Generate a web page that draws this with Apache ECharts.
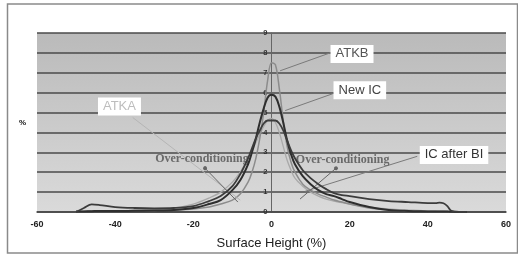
<!DOCTYPE html>
<html>
<head>
<meta charset="utf-8">
<script src="https://cdn.jsdelivr.net/npm/echarts@6/dist/echarts.min.js"></script>
<style>
  html, body { margin: 0; padding: 0; background: #fff; }
  #chart { width: 518px; height: 255px; }
</style>
</head>
<body>
<div id="chart"></div>
<script>
// surface height (%) sample positions and curve values
var xs = [-50, -48, -46, -44, -40, -35, -30, -25, -20, -16, -13, -10, -8, -6, -5, -4, -3, -2, -1, 0,
  1, 2, 3, 4, 5, 6, 8, 10, 12, 14, 16, 18, 20, 25, 30, 35, 40, 42, 43, 44, 45, 46, 48, 50]

var atka = [0.03, 0.04, 0.05, 0.05, 0.06, 0.08, 0.12, 0.2, 0.4, 0.7, 1.0, 1.5, 2.0, 2.7, 3.1, 3.5, 3.9, 4.3, 4.6, 4.7,
  4.5, 4.0, 3.3, 2.6, 2.1, 1.7, 1.3, 1.0, 0.8, 0.65, 0.55, 0.47, 0.4, 0.25, 0.15, 0.1, 0.06, 0.05, 0.04, 0.04, 0.03, 0.02, 0.01, 0]
var atkb = [0.02, 0.03, 0.04, 0.05, 0.06, 0.07, 0.08, 0.1, 0.15, 0.25, 0.4, 0.6, 0.9, 1.5, 2.0, 2.7, 3.7, 5.0, 6.6, 7.5,
  7.4, 6.2, 4.6, 3.3, 2.5, 2.0, 1.4, 1.1, 0.9, 0.75, 0.6, 0.5, 0.4, 0.2, 0.1, 0.05, 0.03, 0.02, 0.02, 0.02, 0.02, 0.01, 0, 0]
var newIC = [0.02, 0.03, 0.04, 0.05, 0.05, 0.06, 0.07, 0.1, 0.2, 0.4, 0.6, 1.1, 1.6, 2.4, 3.0, 3.7, 4.5, 5.2, 5.75, 5.9,
  5.8, 5.3, 4.5, 3.6, 2.9, 2.4, 1.8, 1.4, 1.1, 0.9, 0.8, 0.65, 0.5, 0.25, 0.1, 0.05, 0.03, 0.02, 0.02, 0.02, 0.02, 0.01, 0, 0]
var icAfterBI = [0, 0.2, 0.38, 0.35, 0.25, 0.2, 0.18, 0.2, 0.3, 0.55, 0.8, 1.3, 1.9, 2.7, 3.2, 3.7, 4.1, 4.45, 4.6, 4.6,
  4.6, 4.45, 4.1, 3.6, 3.1, 2.7, 2.1, 1.7, 1.4, 1.15, 0.95, 0.85, 0.8, 0.65, 0.55, 0.5, 0.45, 0.45, 0.47, 0.44, 0.3, 0.06, 0, 0]

var xTicks = [-60, -40, -20, 0, 20, 40, 60]
var yTicks = [0, 1, 2, 3, 4, 5, 6, 7, 8, 9]

// callout boxes: [text, x, y]
var callouts = [
  ['ATKA', -38.9, 5.3],
  ['ATKB', 20.6, 7.95],
  ['New IC', 22.6, 6.12],
  ['IC after BI', 46.7, 2.87]
]
var overNotes = [
  ['Over-conditioning', -17.8, 2.67],
  ['Over-conditioning', 18.2, 2.62]
]
// pointer lines: [x1, y1, x2, y2]
var pointers = [
  [-35.5, 4.75, -8, 0.6],
  [15, 8.0, 2.2, 7.1],
  [15.7, 5.95, 3.5, 5.1],
  [37.3, 2.8, 8.6, 1.04]
]
var arrows = [
  [-8.6, 0.5, -17, 2.2],
  [7.3, 0.65, 16.5, 2.2]
]

function pairs(vals) {
  return xs.map(function (x, i) { return [x, vals[i]] })
}

var chart = echarts.init(document.getElementById('chart'))

var lineColors = ['#a9a9a9', '#8c8c8c', '#2e2e2e', '#3c3c3c']
var lineWidths = [1.3, 1.5, 2, 1.8]
var curves = [atka, atkb, newIC, icAfterBI]
var names = ['ATKA', 'ATKB', 'New IC', 'IC after BI']

var series = curves.map(function (c, i) {
  return {
    name: names[i],
    type: 'line',
    data: pairs(c),
    smooth: 0.35,
    symbol: 'none',
    lineStyle: { color: lineColors[i], width: lineWidths[i] },
    z: 3 + i
  }
})

var calloutColors = ['#bdbdbd', '#555', '#444', '#333']
series.push({
  type: 'line',
  data: [],
  z: 10,
  markLine: {
    silent: true,
    symbol: ['none', 'none'],
    lineStyle: { color: '#7a7a7a', width: 1, type: 'solid' },
    label: { show: false },
    data: pointers.map(function (p, i) {
      return [{ coord: [p[0], p[1]], lineStyle: { color: i === 0 ? '#b5b5b5' : '#7a7a7a' } }, { coord: [p[2], p[3]] }]
    }).concat(arrows.map(function (p) {
      return [{ coord: [p[0], p[1]], symbol: 'none', lineStyle: { color: '#666' } },
        { coord: [p[2], p[3]], symbol: 'circle', symbolSize: 4 }]
    }))
  },
  markPoint: {
    silent: true,
    symbol: 'rect',
    symbolSize: 0,
    data: callouts.map(function (c, i) {
      return {
        coord: [c[1], c[2]],
        label: {
          show: true, position: 'inside', formatter: c[0],
          fontFamily: 'Liberation Sans', fontSize: 13, color: calloutColors[i],
          backgroundColor: '#fff', padding: [3, 5, 2, 5]
        }
      }
    }).concat(overNotes.map(function (c) {
      return {
        coord: [c[1], c[2]],
        label: {
          show: true, position: 'inside', formatter: c[0],
          fontFamily: 'Liberation Serif', fontWeight: 'bold', fontSize: 12, color: '#6a6a6a'
        }
      }
    }))
  }
})

var options = {
  animation: false,
  backgroundColor: '#fff',
  grid: {
    left: 37, right: 12, top: 33, bottom: 40,
    show: true,
    borderWidth: 0,
    backgroundColor: {
      type: 'linear', x: 0, y: 0, x2: 0, y2: 1,
      colorStops: [{ offset: 0, color: '#bababa' }, { offset: 1, color: '#dadada' }]
    }
  },
  graphic: [
    { type: 'rect', shape: { x: 7.5, y: 4, width: 510, height: 249 }, style: { fill: 'none', stroke: '#8a8a8a', lineWidth: 1.5 }, z: -1 },
    { type: 'text', left: 19, top: 119, style: { text: '%', fontSize: 8, fontWeight: 'bold', fill: '#111' } }
  ],
  xAxis: {
    type: 'value',
    min: -60, max: 60, interval: 20,
    name: 'Surface Height (%)',
    nameLocation: 'middle',
    nameGap: 25,
    nameTextStyle: { fontFamily: 'Liberation Sans', fontSize: 13, color: '#222' },
    axisLine: { onZero: false, lineStyle: { color: '#444', width: 1.5 } },
    axisTick: { show: false },
    splitLine: { show: false },
    axisLabel: {
      margin: 8, fontFamily: 'Liberation Sans', fontWeight: 'bold', fontSize: 9, color: '#222',
      formatter: function (v) { return xTicks.indexOf(v) >= 0 ? String(v) : '' }
    }
  },
  yAxis: {
    type: 'value',
    min: 0, max: 9, interval: 1,
    position: 'left',
    offset: -234.5,
    axisLine: { show: true, onZero: false, lineStyle: { color: '#666', width: 1 } },
    axisTick: { show: false },
    splitLine: { show: true, lineStyle: { color: '#4a4a4a', width: 1.5 } },
    axisLabel: {
      margin: 4, fontFamily: 'Liberation Sans', fontWeight: 'bold', fontSize: 7.5, color: '#333',
      formatter: function (v) { return yTicks.indexOf(v) >= 0 ? String(v) : '' }
    }
  },
  series: series
}

chart.setOption(options, true)
</script>
</body>
</html>
